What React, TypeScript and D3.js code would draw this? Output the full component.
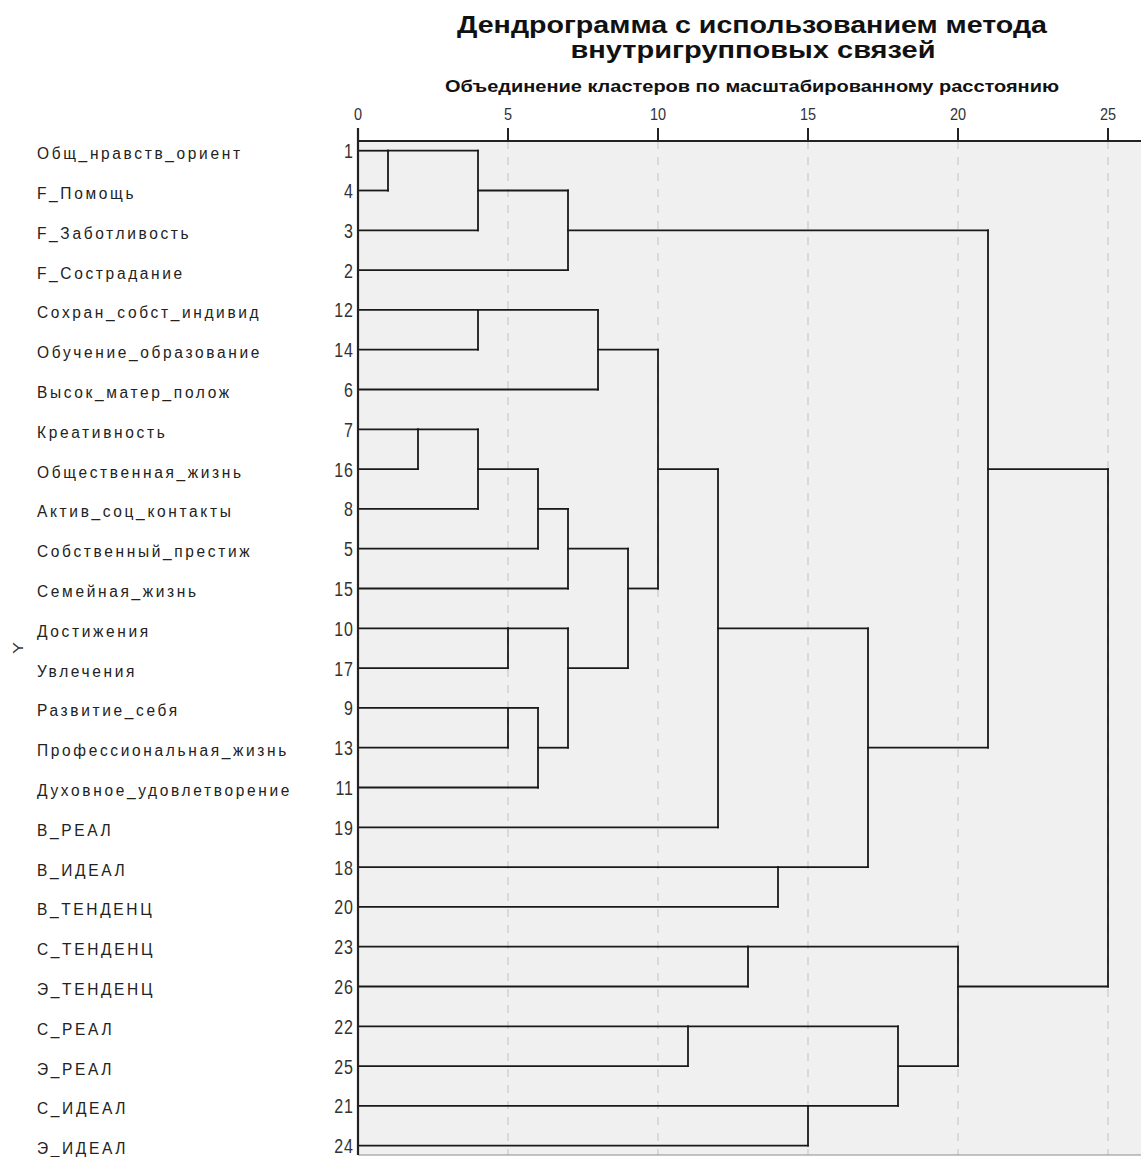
import React from 'react';
import * as d3 from 'd3';

// leaf order top to bottom, with case numbers
const leafIds = [1, 4, 3, 2, 12, 14, 6, 7, 16, 8, 5, 15, 10, 17, 9, 13, 11, 19, 18, 20, 23, 26, 22, 25, 21, 24];
const leafNames = [
  'Общ_нравств_ориент', 'F_Помощь', 'F_Заботливость', 'F_Сострадание',
  'Сохран_собст_индивид', 'Обучение_образование', 'Высок_матер_полож', 'Креативность',
  'Общественная_жизнь', 'Актив_соц_контакты', 'Собственный_престиж', 'Семейная_жизнь',
  'Достижения', 'Увлечения', 'Развитие_себя', 'Профессиональная_жизнь',
  'Духовное_удовлетворение', 'В_РЕАЛ', 'В_ИДЕАЛ', 'В_ТЕНДЕНЦ',
  'С_ТЕНДЕНЦ', 'Э_ТЕНДЕНЦ', 'С_РЕАЛ', 'Э_РЕАЛ', 'С_ИДЕАЛ', 'Э_ИДЕАЛ'
];

// merge steps: "n" = case n, "cK" = cluster formed at step K
const mergeLeft = ['1', '7', 'c0', '12', 'c1', '10', '9', 'c4', 'c6', 'c2', 'c7', 'c5', 'c3', 'c10', 'c12', '22', 'c14', '23', '18', '21', 'c16', 'c15', 'c17', 'c9', 'c23'];
const mergeRight = ['4', '16', '3', '14', '8', '17', '13', '5', '11', '2', '15', 'c8', '6', 'c11', 'c13', '25', '19', '26', '20', '24', 'c18', 'c19', 'c21', 'c20', 'c22'];
const mergeDist = [1, 2, 4, 4, 4, 5, 5, 6, 6, 7, 7, 7, 8, 9, 10, 11, 12, 13, 14, 15, 17, 18, 20, 21, 25];

const xTicks = [0, 5, 10, 15, 20, 25];

const W = 1141;
const H = 1157;
const plotLeft = 358;
const plotTop = 141;
const plotBottom = 1155;

const x = d3.scaleLinear().domain([0, 25]).range([plotLeft, plotLeft + 750]);
const y = d3.scaleLinear().domain([0, leafIds.length - 1]).range([150.7, 1145.7]);

type Node = { row: number; dist: number };

function buildLinks() {
  const nodes = new Map<string, Node>();
  leafIds.forEach((id, i) => nodes.set(String(id), { row: i, dist: 0 }));
  const segs: { x1: number; y1: number; x2: number; y2: number }[] = [];
  mergeDist.forEach((d, k) => {
    const a = nodes.get(mergeLeft[k])!;
    const b = nodes.get(mergeRight[k])!;
    segs.push({ x1: x(a.dist), y1: y(a.row), x2: x(d), y2: y(a.row) });
    segs.push({ x1: x(b.dist), y1: y(b.row), x2: x(d), y2: y(b.row) });
    segs.push({ x1: x(d), y1: y(a.row), x2: x(d), y2: y(b.row) });
    nodes.set('c' + k, { row: Math.floor((a.row + b.row) / 2), dist: d });
  });
  return segs;
}

const font = '"Liberation Sans", Arial, sans-serif';

export default function App() {
  const segs = buildLinks();
  return (
    <div style={{ position: 'absolute', left: 0, top: 0 }}>
      <svg width={W} height={H} style={{ display: 'block', background: '#fff' }}>
        <rect x={plotLeft} y={plotTop} width={W - plotLeft + 10} height={plotBottom - plotTop} fill="#f0f0f0" />
        {xTicks.slice(1).map(t => (
          <line key={'g' + t} x1={x(t)} x2={x(t)} y1={plotTop} y2={plotBottom}
            stroke="#cdcdcd" strokeWidth={1.3} strokeDasharray="8,8" />
        ))}
        <line x1={plotLeft} x2={W} y1={plotBottom} y2={plotBottom} stroke="#8c8c8c" strokeWidth={1.2} />

        {segs.map((s, i) => (
          <line key={i} x1={s.x1} y1={s.y1} x2={s.x2} y2={s.y2} stroke="#1a1a1a" strokeWidth={1.8} strokeLinecap="square" />
        ))}

        {/* top axis */}
        <line x1={plotLeft} x2={W} y1={plotTop} y2={plotTop} stroke="#222" strokeWidth={2} />
        <line x1={plotLeft} x2={plotLeft} y1={128} y2={plotBottom} stroke="#222" strokeWidth={2.2} />
        {xTicks.map(t => (
          <g key={'t' + t}>
            <line x1={x(t)} x2={x(t)} y1={128} y2={plotTop} stroke="#222" strokeWidth={2} />
            <text transform={`translate(${x(t)},120) scale(1,1.15)`} textAnchor="middle" fontFamily={font} fontSize={14.5} fill="#333">{t}</text>
          </g>
        ))}

        {leafIds.map((id, i) => (
          <g key={'l' + id}>
            <text transform={`translate(37,${y(i) + 8.5}) scale(1,1.1)`} fontFamily={font} fontSize={15.5} letterSpacing={2.65} fill="#222">{leafNames[i]}</text>
            <text transform={`translate(354,${y(i) + 7.5}) scale(1,1.25)`} textAnchor="end" fontFamily={font} fontSize={16} letterSpacing={1} fill="#333">{id}</text>
          </g>
        ))}

        <text transform="translate(23,648) rotate(-90) scale(1.2,1)" textAnchor="middle" fontFamily={font} fontSize={15} fill="#333">Y</text>

        <text transform="translate(752,33) scale(1,1.15)" textAnchor="middle" fontFamily={font} fontSize={20.5} fontWeight="bold" fill="#111"
          textLength={590} lengthAdjust="spacingAndGlyphs">Дендрограмма с использованием метода</text>
        <text transform="translate(753,58) scale(1,1.15)" textAnchor="middle" fontFamily={font} fontSize={20.5} fontWeight="bold" fill="#111"
          textLength={365} lengthAdjust="spacingAndGlyphs">внутригрупповых связей</text>
        <text transform="translate(752,92) scale(1,1.15)" textAnchor="middle" fontFamily={font} fontSize={14.5} fontWeight="bold" fill="#111"
          textLength={614} lengthAdjust="spacingAndGlyphs">Объединение кластеров по масштабированному расстоянию</text>
      </svg>
    </div>
  );
}
